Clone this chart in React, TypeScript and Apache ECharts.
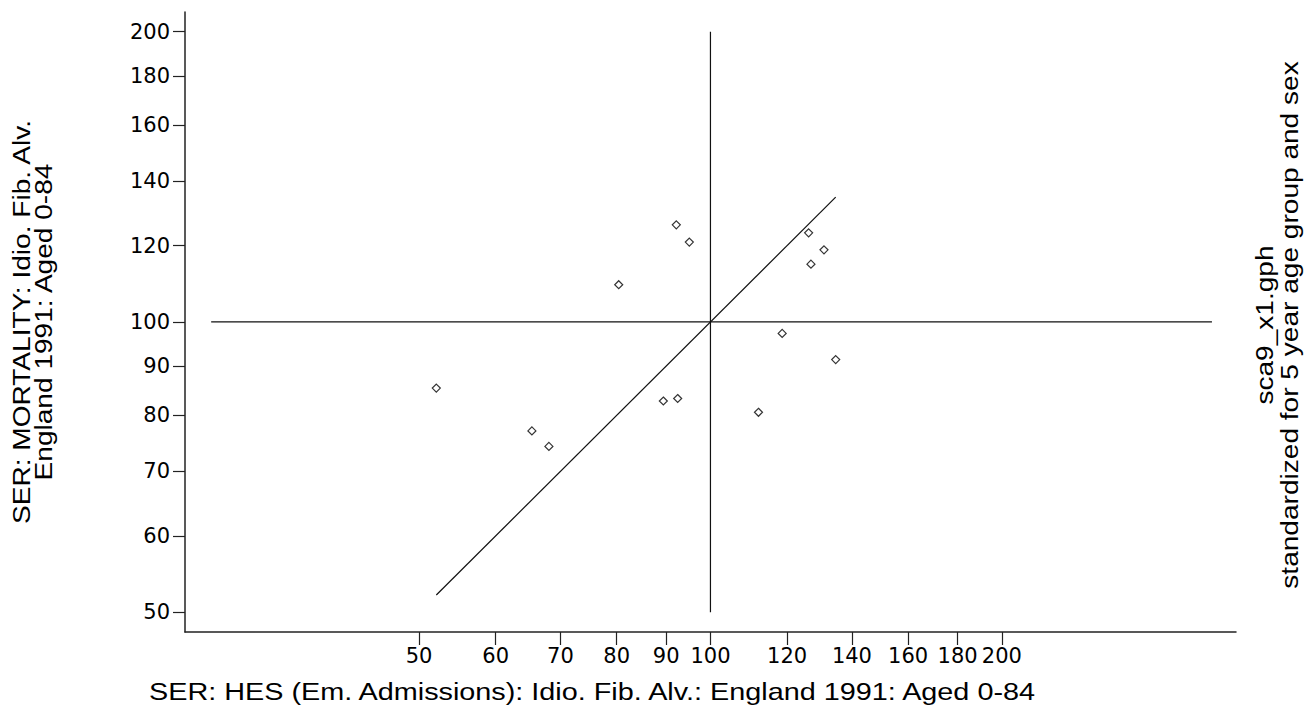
import React, { useEffect, useRef } from "react";
import * as echarts from "echarts";

// Standardized event ratios (SER) per area
const hesSER = [52.1, 65.4, 68.1, 80.4, 89.4, 92.5, 92.2, 95.1, 112.1, 118.6, 126.3, 127.0, 131.0, 134.7];
const mortalitySER = [85.4, 77.1, 74.3, 109.3, 82.8, 83.3, 126.1, 121.0, 80.6, 97.3, 123.7, 114.8, 118.8, 91.4];

// Tick labels (log scale)
const xTicks = [50, 60, 70, 80, 90, 100, 120, 140, 160, 180, 200];
const yTicks = [50, 60, 70, 80, 90, 100, 120, 140, 160, 180, 200];

// Axis extents (log scale, symmetric about 100)
const xRange = [28.66, 349];
const yRange = [47.7, 209.6];

// Reference lines at 100
const hRefX = [30.5, 329.6];
const vRefY = [50, 200];
const refValue = 100;

const titleX = "SER: HES (Em. Admissions): Idio. Fib. Alv.: England 1991: Aged 0-84";
const titleY1 = "SER: MORTALITY: Idio. Fib. Alv.";
const titleY2 = "England 1991: Aged 0-84";
const noteR1 = "sca9_x1.gph";
const noteR2 = "standardized for 5 year age group and sex";

const TICK_FONT = "DejaVu Sans";
const TITLE_FONT = `24px "Liberation Sans", Arial, sans-serif`;
const lg = (v: number) => Math.log10(v);

export default function App() {
  const ref = useRef<HTMLDivElement>(null);
  useEffect(() => {
    document.body.style.margin = "0";
    const chart = echarts.init(ref.current!, null, { renderer: "svg" });
    const minX = Math.min(...hesSER);
    const maxX = Math.max(...hesSER);
    const fmt = (v: number) => String(Math.round(Math.pow(10, v)));
    const lineStyle = { color: "#111", width: 1.2 };
    const txt = (text: string, x: number, y: number, rotated: boolean, stretch: number) => ({
      type: "text",
      x,
      y,
      rotation: rotated ? Math.PI / 2 : 0,
      scaleX: stretch,
      style: { text, font: TITLE_FONT, fill: "#000", align: "center", verticalAlign: "middle" },
    });
    chart.setOption({
      animation: false,
      backgroundColor: "#fff",
      grid: { left: 185, right: 73, top: 12, bottom: 81 },
      xAxis: {
        type: "value",
        min: lg(xRange[0]),
        max: lg(xRange[1]),
        axisLine: { show: true, lineStyle: { color: "#222", width: 1.5 } },
        axisTick: { show: true, length: 13, customValues: xTicks.map(lg), lineStyle: { color: "#222", width: 1.2 } },
        axisLabel: {
          customValues: xTicks.map(lg),
          formatter: fmt,
          margin: 13,
          fontFamily: TICK_FONT,
          fontSize: 21,
          color: "#000",
        },
        splitLine: { show: false },
      },
      yAxis: {
        type: "value",
        min: lg(yRange[0]),
        max: lg(yRange[1]),
        axisLine: { show: true, lineStyle: { color: "#222", width: 1.5 } },
        axisTick: { show: true, length: 12, customValues: yTicks.map(lg), lineStyle: { color: "#222", width: 1.2 } },
        axisLabel: {
          customValues: yTicks.map(lg),
          formatter: fmt,
          margin: 15,
          fontFamily: TICK_FONT,
          fontSize: 21,
          color: "#000",
        },
        splitLine: { show: false },
      },
      series: [
        {
          type: "line",
          symbol: "none",
          lineStyle,
          data: [
            [lg(hRefX[0]), lg(refValue)],
            [lg(hRefX[1]), lg(refValue)],
          ],
        },
        {
          type: "line",
          symbol: "none",
          lineStyle,
          data: [
            [lg(refValue), lg(vRefY[0])],
            [lg(refValue), lg(vRefY[1])],
          ],
        },
        {
          type: "line",
          symbol: "none",
          lineStyle,
          data: [
            [lg(minX), lg(minX)],
            [lg(maxX), lg(maxX)],
          ],
        },
        {
          type: "scatter",
          symbol: "diamond",
          symbolSize: 8,
          itemStyle: { color: "rgba(0,0,0,0)", borderColor: "#000", borderWidth: 1.2 },
          data: hesSER.map((x, i) => [lg(x), lg(mortalitySER[i])]),
          z: 5,
        },
      ],
      graphic: [
        txt(titleX, 592, 692, false, 1.2),
        txt(titleY1, 22, 322, true, 1.17),
        txt(titleY2, 44, 322, true, 1.17),
        txt(noteR1, 1265, 325, true, 1.17),
        txt(noteR2, 1290, 325, true, 1.17),
      ],
    });
    return () => chart.dispose();
  }, []);
  return <div ref={ref} style={{ width: 1309, height: 713 }} />;
}
